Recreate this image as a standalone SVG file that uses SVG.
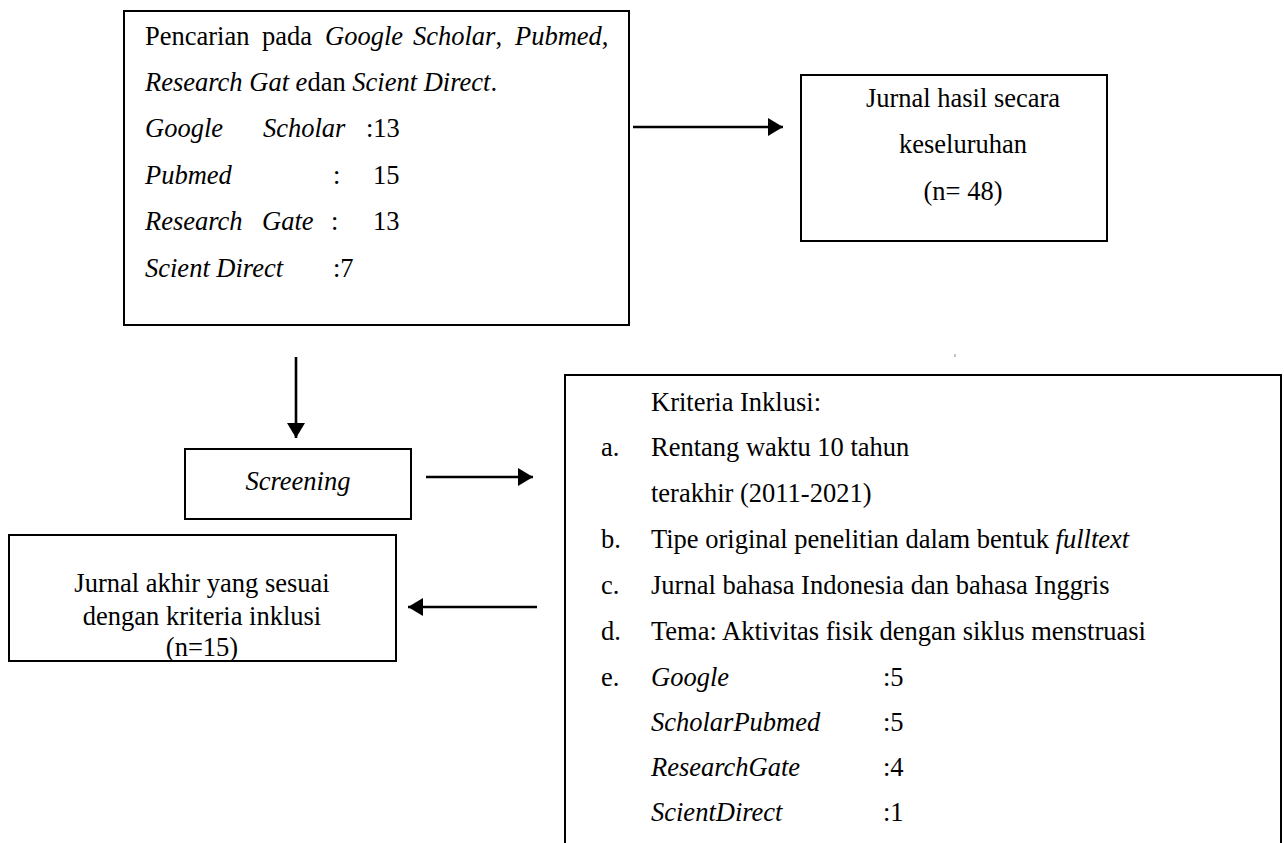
<svg xmlns="http://www.w3.org/2000/svg" width="1284" height="843" viewBox="0 0 1284 843">
<style>
.box{fill:#fff;stroke:#000;stroke-width:2}
.t{font-family:"Liberation Serif","Times New Roman",serif;font-size:26.5px;fill:#000}
.i{font-style:italic}
.c{text-anchor:middle}
.con{stroke:#000;stroke-width:2.6;fill:none}
</style>
<defs>
<marker id="ah" markerUnits="userSpaceOnUse" markerWidth="15" markerHeight="18" refX="15" refY="9" orient="auto">
<path d="M0,0 L15,9 L0,18 z" fill="#000"/>
</marker>
</defs>
<rect width="1284" height="843" fill="#fff"/>

<g id="search">
<rect class="box" x="124" y="11" width="505" height="314"/>
<text class="t" y="45"><tspan x="145">Pencarian</tspan><tspan x="262">pada</tspan><tspan class="i" x="325">Google</tspan><tspan class="i" x="413">Scholar</tspan><tspan>,</tspan><tspan class="i" x="515">Pubmed</tspan><tspan>,</tspan></text>
<text class="t" y="91" x="145"><tspan class="i">Research Gat e</tspan><tspan>dan </tspan><tspan class="i">Scient Direct</tspan><tspan>.</tspan></text>
<text class="t" y="137"><tspan class="i" x="145">Google</tspan><tspan class="i" x="263">Scholar</tspan><tspan x="366">:13</tspan></text>
<text class="t" y="184"><tspan class="i" x="145">Pubmed</tspan><tspan x="333">:</tspan><tspan x="373">15</tspan></text>
<text class="t" y="230"><tspan class="i" x="145">Research</tspan><tspan class="i" x="262">Gate</tspan><tspan x="331">:</tspan><tspan x="373">13</tspan></text>
<text class="t" y="277"><tspan class="i" x="145">Scient Direct</tspan><tspan x="333">:7</tspan></text>
</g>

<g id="total">
<rect class="box" x="801" y="75" width="306" height="166"/>
<text class="t c" x="963" y="107">Jurnal hasil secara</text>
<text class="t c" x="963" y="153">keseluruhan</text>
<text class="t c" x="963" y="200">(n= 48)</text>
</g>

<g id="screening">
<rect class="box" x="185" y="449" width="226" height="70"/>
<text class="t c i" x="298" y="490">Screening</text>
</g>

<g id="final">
<rect class="box" x="9" y="535" width="387" height="126"/>
<text class="t c" x="202" y="592">Jurnal akhir yang sesuai</text>
<text class="t c" x="202" y="625">dengan kriteria inklusi</text>
<text class="t c" x="202" y="656">(n=15)</text>
</g>

<g id="criteria">
<rect class="box" x="565" y="375" width="716" height="480"/>
<text class="t" x="651" y="411">Kriteria Inklusi:</text>
<text class="t" x="601" y="456">a.</text>
<text class="t" x="651" y="456">Rentang waktu 10 tahun</text>
<text class="t" x="651" y="502">terakhir (2011-2021)</text>
<text class="t" x="601" y="548">b.</text>
<text class="t" x="651" y="548">Tipe original penelitian dalam bentuk <tspan class="i">fulltext</tspan></text>
<text class="t" x="601" y="594">c.</text>
<text class="t" x="651" y="594">Jurnal bahasa Indonesia dan bahasa Inggris</text>
<text class="t" x="601" y="640">d.</text>
<text class="t" x="651" y="640">Tema: Aktivitas fisik dengan siklus menstruasi</text>
<text class="t" x="601" y="686">e.</text>
<text class="t i" x="651" y="686">Google</text>
<text class="t" x="883" y="686">:5</text>
<text class="t i" x="651" y="731">ScholarPubmed</text>
<text class="t" x="883" y="731">:5</text>
<text class="t i" x="651" y="776">ResearchGate</text>
<text class="t" x="883" y="776">:4</text>
<text class="t i" x="651" y="821">ScientDirect</text>
<text class="t" x="883" y="821">:1</text>
</g>

<line x1="955" y1="354" x2="955" y2="357" stroke="#888" stroke-width="1"/>

<g id="connectors">
<line class="con" x1="633" y1="127" x2="783" y2="127" marker-end="url(#ah)"/>
<line class="con" x1="296" y1="357" x2="296" y2="438" marker-end="url(#ah)"/>
<line class="con" x1="426" y1="477" x2="533" y2="477" marker-end="url(#ah)"/>
<line class="con" x1="537" y1="607" x2="408" y2="607" marker-end="url(#ah)"/>
</g>
</svg>
